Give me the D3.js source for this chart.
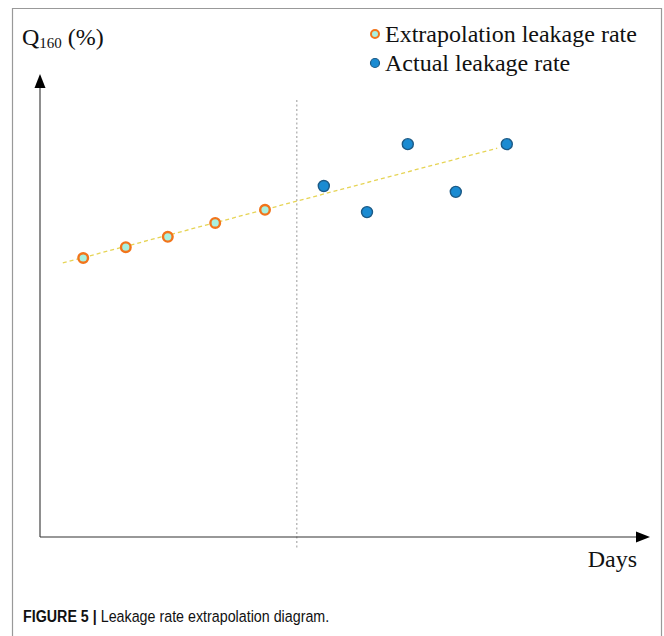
<!DOCTYPE html>
<html><head><meta charset="utf-8">
<script src="https://cdn.jsdelivr.net/npm/d3@7"></script>
<style>body{margin:0;background:#fff}svg{display:block}</style>
</head><body>
<script>
// Data (arbitrary units read from the schematic)
const extrapDays = [7.2, 14.3, 21.3, 29.2, 37.5];
const extrapQ    = [62.0, 64.4, 66.7, 69.8, 72.7];
const actualDays = [47.3, 54.5, 61.3, 69.3, 77.8];
const actualQ    = [78.0, 72.2, 87.3, 76.7, 87.3];
const trendDays  = [3.8, 76.2];
const trendQ     = [60.9, 86.4];
const dividerDay = [42.8];
const legendLabels = ["Extrapolation leakage rate", "Actual leakage rate"];

const W = 664, H = 636;
const serif = "'Liberation Serif','Times New Roman',serif";
const sans = "'Liberation Sans',Arial,sans-serif";
const svg = d3.select("body").append("svg").attr("width", W).attr("height", H);

const x = d3.scaleLinear().domain([0, 100]).range([40, 640]);
const y = d3.scaleLinear().domain([0, 100]).range([537, 87]);

// frame
svg.append("path").attr("d", `M12.5,${H}V8.5H661.5V${H}`).attr("fill","none").attr("stroke","#999").attr("stroke-width",1.2);

// divider
svg.append("line").attr("x1", x(dividerDay[0])).attr("x2", x(dividerDay[0]))
  .attr("y1", 100).attr("y2", 548).attr("stroke","#aaa").attr("stroke-width",1.2).attr("stroke-dasharray","2,2.5");

// axes with arrows
svg.append("line").attr("x1",40).attr("x2",40).attr("y1",537).attr("y2",86).attr("stroke","#444").attr("stroke-width",1.2);
svg.append("path").attr("d","M40,74L34.5,88L45.5,88Z").attr("fill","#000");
svg.append("line").attr("x1",40).attr("x2",638).attr("y1",537).attr("y2",537).attr("stroke","#333").attr("stroke-width",1.2);
svg.append("path").attr("d","M650,537L636,531.5L636,542.5Z").attr("fill","#000");

// trend line
svg.append("path").datum(d3.zip(trendDays, trendQ))
  .attr("d", d3.line().x(d=>x(d[0])).y(d=>y(d[1])))
  .attr("fill","none").attr("stroke","#e6d455").attr("stroke-width",1.3).attr("stroke-dasharray","4,3");

// points
svg.selectAll("circle.ex").data(d3.zip(extrapDays, extrapQ)).join("circle").attr("class","ex")
  .attr("cx",d=>x(d[0])).attr("cy",d=>y(d[1])).attr("r",4.8)
  .attr("fill","#a9f0df").attr("stroke","#f2741a").attr("stroke-width",2.4);
svg.selectAll("circle.ac").data(d3.zip(actualDays, actualQ)).join("circle").attr("class","ac")
  .attr("cx",d=>x(d[0])).attr("cy",d=>y(d[1])).attr("r",5.5)
  .attr("fill","#1a8bd2").attr("stroke","#1c5a86").attr("stroke-width",1.4);

// y label
const yl = svg.append("text").attr("x",22).attr("y",45).attr("font-family",serif).attr("font-size",24).attr("fill","#111");
yl.append("tspan").text("Q");
yl.append("tspan").attr("font-size",15).attr("dy",3).text("160");
yl.append("tspan").attr("dy",-3).text(" (%)");

// legend
const lg = svg.append("g");
lg.append("circle").attr("cx",375).attr("cy",34).attr("r",4).attr("fill","#a9f0df").attr("stroke","#f2741a").attr("stroke-width",2);
lg.append("circle").attr("cx",375).attr("cy",63).attr("r",4.5).attr("fill","#1a8bd2").attr("stroke","#1c5a86").attr("stroke-width",1.2);
lg.selectAll("text").data(legendLabels).join("text")
  .attr("x",385).attr("y",(d,i)=>42+i*29)
  .attr("font-family",serif).attr("font-size",24).attr("fill","#111").text(d=>d);

// x label
svg.append("text").attr("x",637).attr("y",567).attr("text-anchor","end")
  .attr("font-family",serif).attr("font-size",24).attr("fill","#111").text("Days");

// caption: one text, horizontally condensed
const cap = svg.append("text").attr("transform","translate(23,622) scale(0.84,1)")
  .attr("font-family",sans).attr("font-size",17).attr("fill","#111");
cap.append("tspan").attr("font-weight","bold").text("FIGURE 5 |");
cap.append("tspan").text(" Leakage rate extrapolation diagram.");
</script>
</body></html>
